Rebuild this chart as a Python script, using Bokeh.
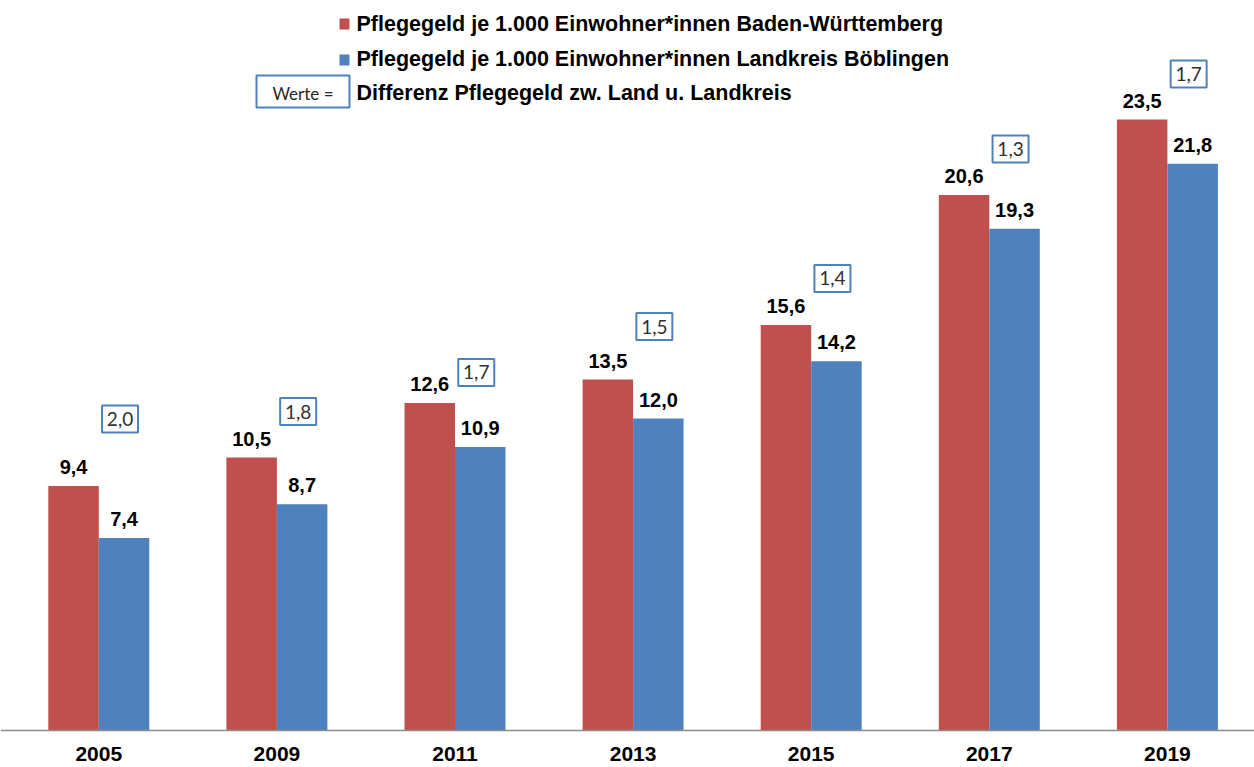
from bokeh.plotting import figure
from bokeh.models import Range1d, FixedTicker, ColumnDataSource
from bokeh.transform import dodge
from bokeh.core.properties import value
from bokeh.embed import file_html
from bokeh.resources import INLINE

# ---------------- data ----------------
years = ["2005", "2009", "2011", "2013", "2015", "2017", "2019"]
land_bw = [9.4, 10.5, 12.6, 13.5, 15.6, 20.6, 23.5]
kreis_bb = [7.4, 8.7, 10.9, 12.0, 14.2, 19.3, 21.8]
differenz = [2.0, 1.8, 1.7, 1.5, 1.4, 1.3, 1.7]
series_names = [
    "Pflegegeld je 1.000 Einwohner*innen Baden-Württemberg",
    "Pflegegeld je 1.000 Einwohner*innen Landkreis Böblingen",
]
diff_legend_key = "Werte ="
diff_legend_text = "Differenz Pflegegeld zw. Land u. Landkreis"

# ---------------- styling / layout ----------------
RED = "#C0504D"
BLUE = "#4F81BD"
FONT = "Liberation Sans"
W, H = 1254, 767
PX_PER_X = 178.1
PX_PER_Y = 26.0
AXIS_PX = 730                      # y = 0, in px from figure top
BAR_W = 0.2835
TFIX = 7                           # baseline correction (px)
box_lift_px = [67, 46, 30.5, 53, 46.5, 46, 45.5]   # box centre above red bar top

x_start = -98.3 / PX_PER_X
x_end = x_start + W / PX_PER_X
y_end = AXIS_PX / PX_PER_Y
y_start = -(H - AXIS_PX) / PX_PER_Y


def fx(px):
    return x_start + px / PX_PER_X


def fy(py):
    return y_end - py / PX_PER_Y


def de(v):
    return f"{v:.1f}".replace(".", ",")


src = ColumnDataSource(dict(
    idx=list(range(len(years))),
    land=land_bw,
    kreis=kreis_bb,
    land_lbl=[de(v) for v in land_bw],
    kreis_lbl=[de(v) for v in kreis_bb],
    diff_lbl=[de(v) for v in differenz],
    box_y=[v + l / PX_PER_Y for v, l in zip(land_bw, box_lift_px)],
))

p = figure(width=W, height=H, output_backend="svg", toolbar_location=None,
           x_range=Range1d(x_start, x_end), y_range=Range1d(y_start, y_end),
           y_axis_location=None, min_border=0, tools="")
p.outline_line_color = None
p.xgrid.grid_line_color = None
p.ygrid.grid_line_color = None
p.background_fill_color = "white"
p.border_fill_color = "white"

off = BAR_W / 2
p.vbar(x=dodge("idx", -off), top="land", bottom=0, width=BAR_W,
       fill_color=RED, line_color=None, source=src)
p.vbar(x=dodge("idx", off), top="kreis", bottom=0, width=BAR_W,
       fill_color=BLUE, line_color=None, source=src)

lbl = dict(text_align="center", text_baseline="alphabetic", y_offset=-12 - TFIX,
           text_font=value(FONT), text_font_style="bold",
           text_font_size="20px", text_color="black", source=src)
p.text(x=dodge("idx", -off), y="land", text="land_lbl", **lbl)
p.text(x=dodge("idx", off), y="kreis", text="kreis_lbl", **lbl)

# difference boxes
bx = dodge("idx", off - 4 / PX_PER_X)
p.rect(x=bx, y="box_y", width=36, height=27, width_units="screen",
       height_units="screen", fill_color="white", line_color=BLUE,
       line_width=2, source=src)
p.text(x=bx, y="box_y", text="diff_lbl", text_align="center",
       text_baseline="alphabetic", y_offset=7 - TFIX, text_font=value("Lato"),
       text_font_size="19px", text_color="#303030", source=src)

# x axis (fixed at y = 0)
ax = p.xaxis[0]
ax.fixed_location = 0
ax.ticker = FixedTicker(ticks=list(range(len(years))))
ax.major_label_overrides = {i: y for i, y in enumerate(years)}
ax.major_label_standoff = 10
ax.major_tick_line_color = None
ax.minor_tick_line_color = None
ax.axis_line_color = "#8c8c8c"
ax.axis_line_width = 1.5
ax.major_label_text_font = FONT
ax.major_label_text_font_style = "bold"
ax.major_label_text_font_size = "21px"
ax.major_label_text_color = "black"

# legend (drawn manually)
p.rect(x=[fx(344), fx(344)], y=[fy(23.5), fy(59.5)], width=10, height=11,
       width_units="screen", height_units="screen",
       fill_color=[RED, BLUE], line_color=None)
p.text(x=[fx(356)] * 3, y=[fy(30 - TFIX), fy(65.5 - TFIX), fy(99 - TFIX)],
       text=series_names + [diff_legend_text], text_align="left",
       text_baseline="alphabetic", text_font=value(FONT),
       text_font_style="bold", text_font_size="21.5px", text_color="black")
p.rect(x=[fx(302.5)], y=[fy(91)], width=93, height=32, width_units="screen",
       height_units="screen", fill_color="white", line_color=BLUE, line_width=2)
p.text(x=[fx(302.5)], y=[fy(100 - TFIX)], text=[diff_legend_key], text_align="center",
       text_baseline="alphabetic", text_font=value("Lato"),
       text_font_size="17px", text_color="#262626")

open("out.html", "w").write(file_html(p, INLINE))
